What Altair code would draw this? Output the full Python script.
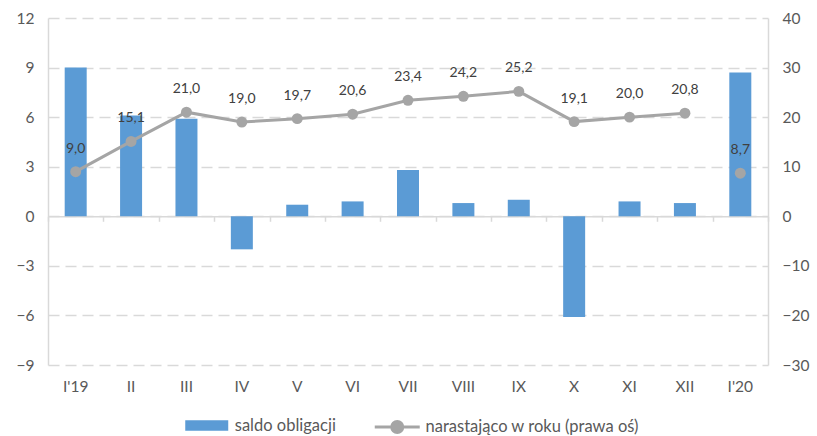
import altair as alt
import pandas as pd

months = ["I'19", "II", "III", "IV", "V", "VI", "VII", "VIII", "IX", "X", "XI", "XII", "I'20"]
saldo = [9.0, 6.1, 5.9, -2.0, 0.7, 0.9, 2.8, 0.8, 1.0, -6.1, 0.9, 0.8, 8.7]
narastajaco = [9.0, 15.1, 21.0, 19.0, 19.7, 20.6, 23.4, 24.2, 25.2, 19.1, 20.0, 20.8, 8.7]
rok = ["2019"] * 12 + ["2020"]

BLUE = "#5B9BD5"
GREY = "#A5A5A5"
GRID = "#D9D9D9"
TXT = "#595959"
FONT = "Lato"

df = pd.DataFrame({"m": months, "saldo": saldo, "nar": narastajaco, "rok": rok,
                   "s1": "saldo obligacji", "s2": "narastająco w roku (prawa oś)"})

W, H = 720, 347
zero_offset = -H * 9 / 21  # category axis crosses the left axis at 0

x_ticks = alt.X("m:N", sort=months, title=None,
                scale=alt.Scale(paddingInner=0, paddingOuter=0),
                axis=alt.Axis(orient="bottom", offset=zero_offset, labels=False,
                              domain=True, domainColor=GRID, domainWidth=1.5,
                              ticks=True, tickColor=GRID, tickWidth=1.5, tickSize=5,
                              tickBand="extent", grid=False))

x_labels = alt.X("m:N", sort=months, title=None,
                 scale=alt.Scale(paddingInner=0, paddingOuter=0),
                 axis=alt.Axis(orient="bottom", domain=False, ticks=False, grid=False,
                               labelAngle=0, labelPadding=14, labelFontSize=15.5,
                               labelColor=TXT, labelFont=FONT))

# wide legend symbols drawn outside the unit square, so the legend row stays short
bar_path = "M-2,-0.5H2V0.5H-2Z"
line_path = ("M-2,0L2,0M0.49,0A0.49,0.49,0,1,1,-0.49,0"
             "A0.49,0.49,0,1,1,0.49,0Z")

bars = alt.Chart(df).mark_bar(size=22).encode(
    x=x_ticks,
    y=alt.Y("saldo:Q", title=None,
            scale=alt.Scale(domain=[-9, 12], nice=False, zero=False),
            axis=alt.Axis(orient="left", values=list(range(-9, 13, 3)),
                          domain=True, domainColor=GRID, domainWidth=1.5,
                          ticks=False, grid=True, gridColor=GRID, gridWidth=1.5,
                          gridDash=[11, 6], labelPadding=14, labelFontSize=15.5,
                          labelColor=TXT, labelFont=FONT)),
    fill=alt.Fill("s1:N", scale=alt.Scale(range=[BLUE]),
                  legend=alt.Legend(title=None, orient="none", legendX=147.75, legendY=396.5,
                                    symbolType=bar_path, symbolSize=462,
                                    symbolStrokeWidth=0, labelFontSize=16.5,
                                    labelColor=TXT, labelFont=FONT, labelOffset=17,
                                    labelLimit=400)),
)

y_right = alt.Y("nar:Q", title=None,
                scale=alt.Scale(domain=[-30, 40], nice=False, zero=False),
                axis=alt.Axis(orient="right", values=list(range(-30, 41, 10)),
                              domain=True, domainColor=GRID, domainWidth=1.5,
                              ticks=False, grid=False, labelPadding=14,
                              labelFontSize=15.5, labelColor=TXT, labelFont=FONT))

line = alt.Chart(df).mark_line(strokeWidth=3).encode(
    x=x_labels,
    y=y_right,
    detail="rok:N",
    stroke=alt.Stroke("s2:N", scale=alt.Scale(range=[GREY]),
                      legend=alt.Legend(title=None, orient="none", legendX=336.25, legendY=396,
                                        symbolType=line_path, symbolSize=506,
                                        symbolStrokeWidth=3, labelFontSize=16.5,
                                        labelColor=TXT, labelFont=FONT, labelOffset=15.25,
                                        symbolFillColor=GREY, labelLimit=400)),
)

points = alt.Chart(df).mark_point(filled=True, size=120, opacity=1, color=GREY).encode(
    x=alt.X("m:N", sort=months), y=alt.Y("nar:Q"),
)

labels = alt.Chart(df).transform_calculate(
    lbl="replace(format(datum.nar, '.1f'), '.', ',')"
).mark_text(dy=-23, fontSize=14, color="#404040", font=FONT).encode(
    x=alt.X("m:N", sort=months), y=alt.Y("nar:Q"), text="lbl:N",
)

right = alt.layer(line, points, labels)

chart = alt.layer(bars, right).resolve_scale(
    y="independent"
).resolve_axis(
    x="independent"
).properties(
    width=W, height=H,
    autosize=alt.AutoSizeParams(type="none"),
    padding={"left": 48, "top": 18, "right": 49, "bottom": 71},
).configure_view(
    stroke=None
).configure_axis(
    labelFont=FONT
).configure_legend(
    labelFont=FONT
)

chart.save("out.html", embed_options={"renderer": "svg", "actions": False})
